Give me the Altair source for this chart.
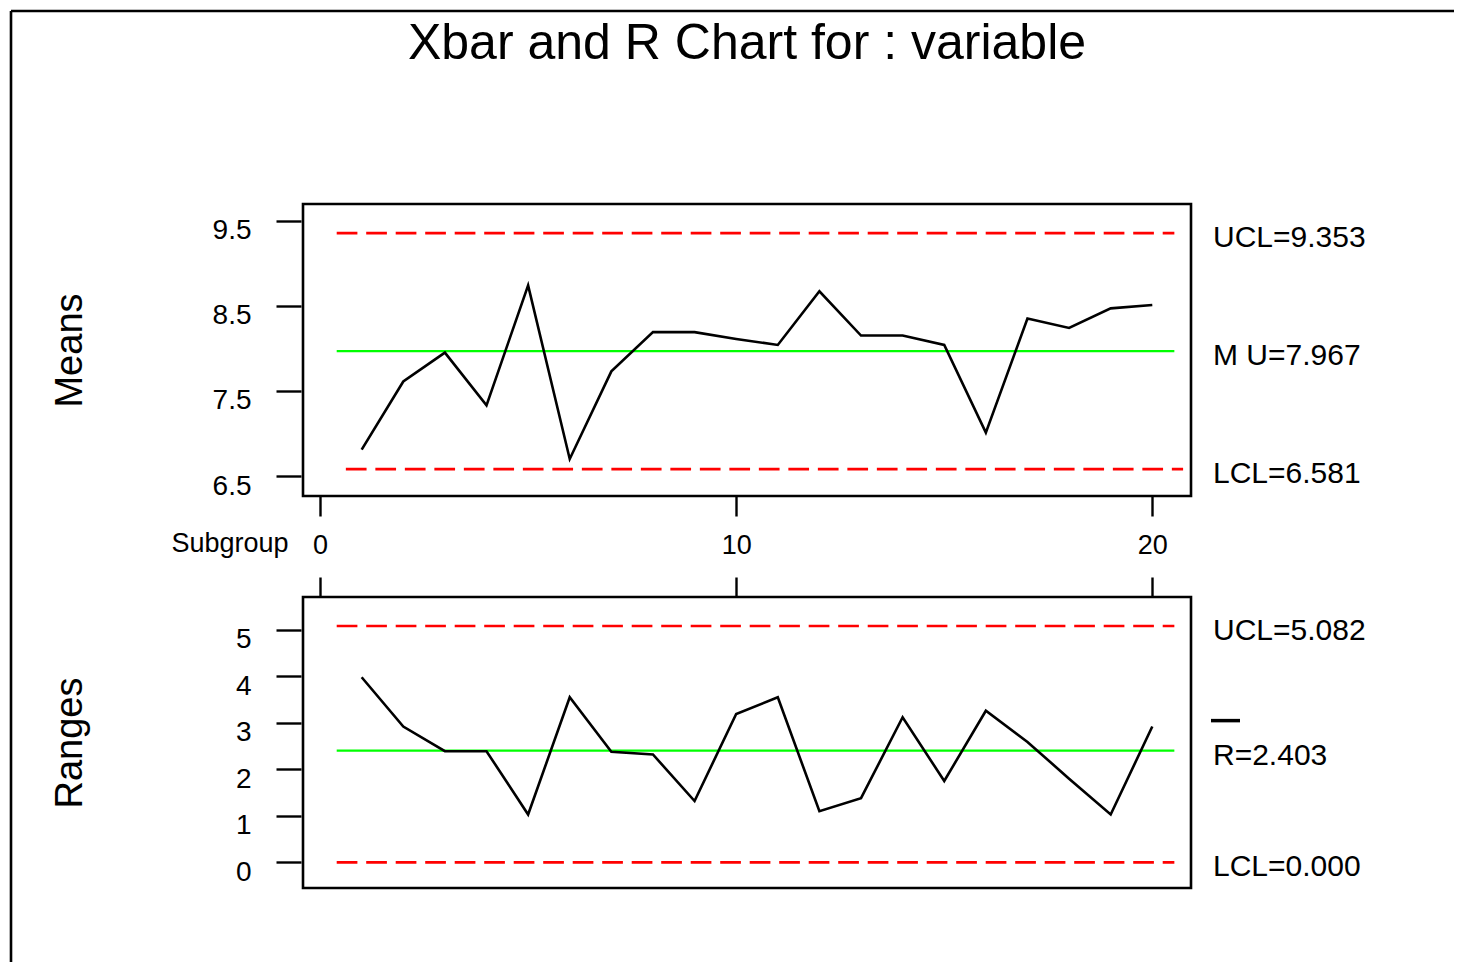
import altair as alt
import pandas as pd

# ---------------- data ----------------
subgroups = list(range(1, 21))
means = [6.81, 7.61, 7.95, 7.33, 8.74, 6.70, 7.73, 8.19, 8.19, 8.11,
         8.04, 8.67, 8.15, 8.15, 8.04, 7.01, 8.35, 8.24, 8.47, 8.51]
ranges = [3.98, 2.92, 2.39, 2.39, 1.03, 3.55, 2.38, 2.32, 1.32, 3.19,
          3.55, 1.10, 1.38, 3.12, 1.75, 3.26, 2.59, 1.80, 1.03, 2.92]

mean_limit_names = ["UCL", "MU", "LCL"]
mean_limit_values = [9.353, 7.967, 6.581]
mean_limit_labels = ["UCL=9.353", "M U=7.967", "LCL=6.581"]
mean_limit_start = [0.4, 0.4, 0.62]
mean_limit_end = [20.53, 20.53, 20.74]

range_limit_names = ["UCL", "R", "LCL"]
range_limit_values = [5.082, 2.403, 0.0]
range_limit_labels = ["UCL=5.082", "R=2.403", "LCL=0.000"]
range_limit_start = [0.4, 0.4, 0.4]
range_limit_end = [20.53, 20.53, 20.53]

x_ticks = [0, 10, 20]
mean_ticks = [6.5, 7.5, 8.5, 9.5]
range_ticks = [0, 1, 2, 3, 4, 5]

TITLE = "Xbar and R Chart for : variable"

# ---------------- style ----------------
FONT = "Liberation Sans, Arial, sans-serif"
NARROW = "Liberation Sans Narrow, Liberation Sans, Arial, sans-serif"
W = 888
H1 = 292
H2 = 291
X_DOMAIN = [-0.41, 20.93]
Y1_DOMAIN = [6.265, 9.696]
Y2_DOMAIN = [-0.55, 5.705]

means_df = pd.DataFrame({"subgroup": subgroups, "value": means})
ranges_df = pd.DataFrame({"subgroup": subgroups, "value": ranges})
mean_lim_df = pd.DataFrame({"name": mean_limit_names, "value": mean_limit_values,
                            "label": mean_limit_labels, "start": mean_limit_start,
                            "end": mean_limit_end})
range_lim_df = pd.DataFrame({"name": range_limit_names, "value": range_limit_values,
                             "label": range_limit_labels, "start": range_limit_start,
                             "end": range_limit_end})
one_df = pd.DataFrame({"k": [0]})


def y_axis(ticks, title, fmt, title_y):
    return alt.Axis(values=ticks, format=fmt, title=title, titleX=-231, titleY=title_y,
                    titleAngle=-90, titleAlign="center", titleBaseline="middle",
                    titleFont=NARROW, titleFontSize=38, titleFontWeight="normal",
                    titleColor="black", labelFont=FONT, labelFontSize=28,
                    labelColor="black", labelPadding=25, labelOffset=10,
                    tickSize=25, tickWidth=2.4, tickColor="black", domain=False,
                    grid=False, offset=2)


x_axis_bottom = alt.Axis(values=x_ticks, format="d", orient="bottom", title="Subgroup",
                         titleX=-15, titleY=47, titleAlign="right", titleBaseline="middle",
                         titleAngle=0, titleFont=FONT, titleFontSize=27,
                         titleFontWeight="normal", titleColor="black",
                         labelFont=FONT, labelFontSize=27, labelColor="black",
                         labelPadding=16, labelFlush=False, tickSize=20, tickWidth=2.4,
                         tickColor="black", domain=False, grid=False)
x_axis_top = alt.Axis(values=x_ticks, orient="top", title=None, labels=False,
                      tickSize=20, tickWidth=2.4, tickColor="black", domain=False,
                      grid=False)


def panel(series_df, lim_df, ydomain, yaxis, xaxis, height, center_name, extra=None):
    xs = alt.Scale(domain=X_DOMAIN, nice=False, zero=False)
    ys = alt.Scale(domain=ydomain, nice=False, zero=False)
    line = alt.Chart(series_df).mark_line(color="black", strokeWidth=2.6).encode(
        x=alt.X("subgroup:Q", scale=xs, axis=xaxis),
        y=alt.Y("value:Q", scale=ys, axis=yaxis),
    )
    limits = alt.Chart(lim_df).transform_filter(
        alt.datum.name != center_name
    ).mark_rule(color="#ff0000", strokeWidth=2.7, strokeDash=[20.7, 8.8]).encode(
        x=alt.X("start:Q", scale=xs, axis=xaxis),
        x2="end:Q",
        y=alt.Y("value:Q", scale=ys, axis=yaxis),
    )
    center = alt.Chart(lim_df).transform_filter(
        alt.datum.name == center_name
    ).mark_rule(color="#00ff00", strokeWidth=2.4).encode(
        x=alt.X("start:Q", scale=xs, axis=xaxis),
        x2="end:Q",
        y=alt.Y("value:Q", scale=ys, axis=yaxis),
    )
    labels = alt.Chart(lim_df).mark_text(
        align="left", baseline="middle", dy=5, fontSize=30, font=FONT, color="black"
    ).encode(
        x=alt.value(910),
        y=alt.Y("value:Q", scale=ys, axis=yaxis),
        text="label:N",
    )
    layers = [limits, center, line, labels]
    if extra:
        layers += extra(ys, yaxis)
    return alt.layer(*layers).properties(width=W, height=height)


def p2_extra(ys, yaxis):
    overbar = alt.Chart(range_lim_df).transform_filter(
        alt.datum.name == "R"
    ).mark_rule(color="black", strokeWidth=3.5, yOffset=-30).encode(
        x=alt.value(908), x2=alt.value(937),
        y=alt.Y("value:Q", scale=ys, axis=yaxis),
    )
    frame_left = alt.Chart(one_df).mark_rule(color="black", strokeWidth=2.6).encode(
        x=alt.value(-292), y=alt.value(-586), y2=alt.value(365)
    )
    frame_top = alt.Chart(one_df).mark_rule(color="black", strokeWidth=2.6).encode(
        x=alt.value(-292), x2=alt.value(1151), y=alt.value(-586)
    )
    return [overbar, frame_left, frame_top]


p1 = panel(means_df, mean_lim_df, Y1_DOMAIN,
           y_axis(mean_ticks, "Means", ".1f", H1 / 2), x_axis_bottom, H1, "MU")
p1 = p1.properties(title=alt.Title(TITLE, anchor="middle", frame="group", offset=110,
                                   fontSize=50, font=FONT, fontWeight="normal",
                                   color="black", baseline="middle"))
p2 = panel(ranges_df, range_lim_df, Y2_DOMAIN,
           y_axis(range_ticks, "Ranges", "d", H2 / 2), x_axis_top, H2, "R",
           extra=p2_extra)

chart = alt.vconcat(p1, p2, spacing=101, bounds="flush").properties(
    padding={"left": 0, "top": 0, "right": 0, "bottom": 0},
    background="white",
).configure_view(stroke="black", strokeWidth=2.6)

chart.save("out.html", embed_options={"renderer": "svg", "actions": False})
